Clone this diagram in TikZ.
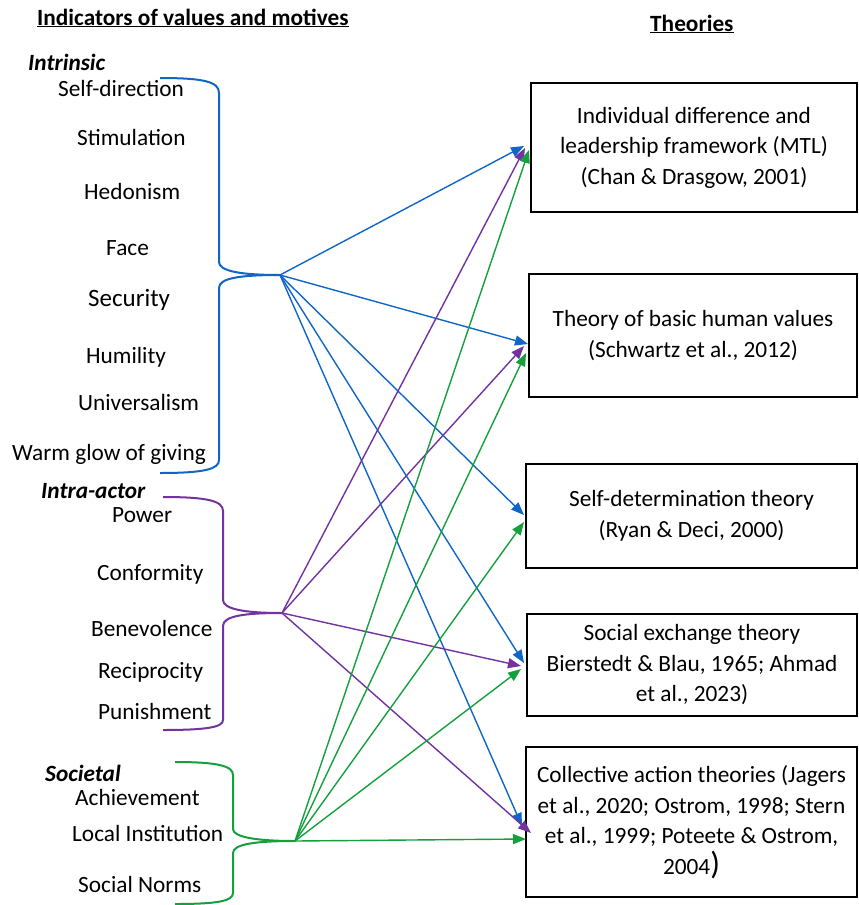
\documentclass[tikz,border=0pt]{standalone}
\usepackage{fontspec}
\setmainfont{Carlito}
\usetikzlibrary{arrows.meta}
\definecolor{cblue}{HTML}{1066C6}
\definecolor{cpurple}{HTML}{7232A0}
\definecolor{cgreen}{HTML}{14A03C}
\begin{document}
\begin{tikzpicture}[x=1pt,y=-1pt,
  item/.style={anchor=base west, inner sep=0pt, font=\fontsize{23.3}{28}\selectfont},
  grp/.style={anchor=base west, inner sep=0pt, font=\fontsize{23.3}{28}\selectfont\bfseries\itshape},
  ttl/.style={anchor=base west, inner sep=0pt, font=\fontsize{23.3}{28}\selectfont\bfseries},
  box/.style={draw, line width=2pt, align=center, inner sep=0pt, font=\fontsize{23.3}{30.5}\selectfont},
  conn/.style={line width=1.4pt, -{Triangle[length=13pt,width=10pt]}},
  brace/.style={line width=2pt}]
\useasboundingbox (0,0) rectangle (859,905);

% titles
\node[ttl] (t1) at (37,25) {\underline{Indicators of values and motives}};
\node[ttl] (t2) at (650,31) {\underline{Theories}};

% left items
\node[grp] (g1) at (28,70) {Intrinsic};
\node[item] (i1) at (58,96) {Self-direction};
\node[item] (i2) at (77,145) {Stimulation};
\node[item] (i3) at (84,199) {Hedonism};
\node[item] (i4) at (106,255) {Face};
\node[item, font=\fontsize{25}{28}\selectfont] (i5) at (88,306) {Security};
\node[item] (i6) at (86,363) {Humility};
\node[item] (i7) at (78,410) {Universalism};
\node[item] (i8) at (12,460) {Warm glow of giving};
\node[grp] (g2) at (41,498) {Intra-actor};
\node[item] (i9) at (112,522) {Power};
\node[item] (i10) at (97,580) {Conformity};
\node[item] (i11) at (91,636) {Benevolence};
\node[item] (i12) at (98,678) {Reciprocity};
\node[item] (i13) at (98,719) {Punishment};
\node[grp] (g3) at (45,781) {Societal};
\node[item] (i14) at (75,805) {Achievement};
\node[item] (i15) at (72,841) {Local Institution};
\node[item] (i16) at (78,892) {Social Norms};

% braces
\coordinate (tb) at (280,275);
\coordinate (tp) at (282,613);
\coordinate (tg) at (295,841);
\draw[brace, cblue] (160,78) .. controls (205,78) and (219,82) .. (219,93) -- (219,262)
  .. controls (219,271) and (240,275) .. (tb)
  .. controls (240,275) and (219,278) .. (219,288) -- (219,460)
  .. controls (219,469) and (205,473) .. (160,473);
\draw[brace, cpurple] (163,497) .. controls (208,497) and (223,501) .. (223,511) -- (223,600)
  .. controls (223,609) and (244,613) .. (tp)
  .. controls (244,613) and (223,616) .. (223,626) -- (223,720)
  .. controls (223,727) and (208,730) .. (163,730);
\draw[brace, cgreen] (175,762) .. controls (218,762) and (233,766) .. (233,775) -- (233,829)
  .. controls (233,837) and (256,841) .. (tg)
  .. controls (256,841) and (233,844) .. (233,853) -- (233,893)
  .. controls (233,901) and (218,904) .. (175,904);

% boxes
\node[box, minimum width=326pt, minimum height=129pt] (b1) at (694,147.5)
  {Individual difference and\\leadership framework (MTL)\\(Chan \& Drasgow, 2001)};
\node[box, minimum width=328pt, minimum height=123pt] (b2) at (693,335.5)
  {Theory of basic human values\\(Schwartz et al., 2012)};
\node[box, minimum width=331pt, minimum height=104pt] (b3) at (691.5,516)
  {Self-determination theory\\(Ryan \& Deci, 2000)};
\node[box, minimum width=330pt, minimum height=102pt] (b4) at (692,665)
  {Social exchange theory\\Bierstedt \& Blau, 1965; Ahmad\\et al., 2023)};
\node[box, minimum width=331pt, minimum height=150pt] (b5) at (691.5,822)
  {Collective action theories (Jagers\\et al., 2020; Ostrom, 1998; Stern\\et al., 1999; Poteete \& Ostrom,\\2004{\fontsize{32}{32}\selectfont)}};

% blue connectors
\draw[conn, cblue] (tb) -- ([xshift=-6pt,yshift=1.5pt]b1.west);
\draw[conn, cblue] (tb) -- ([xshift=0pt,yshift=-8.5pt]b2.west);
\draw[conn, cblue] (tb) -- ([xshift=-1pt,yshift=1pt]b3.west);
\draw[conn, cblue] (tb) -- ([xshift=-2pt,yshift=2pt]b4.west);
\draw[conn, cblue] (tb) -- ([xshift=-3pt,yshift=-4pt]b5.west);
% purple connectors
\draw[conn, cpurple] (tp) -- ([xshift=-5pt,yshift=-0.5pt]b1.west);
\draw[conn, cpurple] (tp) -- ([xshift=-4pt,yshift=-10.5pt]b2.west);
\draw[conn, cpurple] (tp) -- ([xshift=-5pt,yshift=-1pt]b4.west);
\draw[conn, cpurple] (tp) -- ([xshift=6pt,yshift=-11pt]b5.west);
% green connectors
\draw[conn, cgreen] (tg) -- ([xshift=-1pt,yshift=-2.5pt]b1.west);
\draw[conn, cgreen] (tg) -- ([xshift=-2pt,yshift=-17.5pt]b2.west);
\draw[conn, cgreen] (tg) -- ([xshift=-1pt,yshift=-6pt]b3.west);
\draw[conn, cgreen] (tg) -- ([xshift=-5pt,yshift=-4pt]b4.west);
\draw[conn, cgreen] (tg) -- ([xshift=1pt,yshift=-17pt]b5.west);
\end{tikzpicture}
\end{document}
